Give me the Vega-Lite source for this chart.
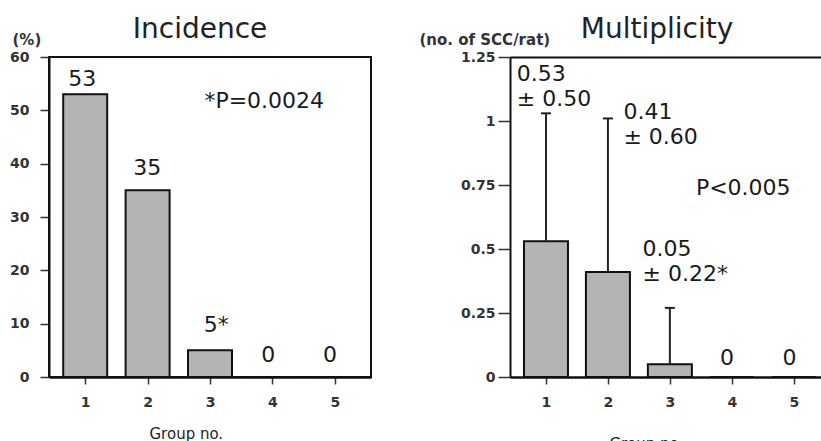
{
  "$schema": "https://vega.github.io/schema/vega-lite/v6.json",
  "background": "white",
  "padding": {"left": 8, "top": 15, "right": 0, "bottom": 0},
  "bounds": "flush",
  "spacing": 139,
  "config": {
    "font": "DejaVu Sans",
    "view": {"stroke": "#111", "strokeWidth": 2},
    "axis": {
      "grid": false,
      "domainColor": "#111",
      "tickColor": "#333",
      "tickWidth": 1.5,
      "labelFont": "DejaVu Sans",
      "labelFontSize": 14,
      "labelFontWeight": "bold",
      "labelColor": "#333",
      "titleFont": "DejaVu Sans"
    }
  },
  "hconcat": [
    {
      "width": 322,
      "height": 320,
      "title": {"text": "Incidence", "font": "DejaVu Sans", "fontSize": 28, "fontWeight": "normal", "color": "#222", "anchor": "middle", "frame": "group", "dx": -10, "offset": -34, "baseline": "alphabetic"},
      "layer": [
        {
          "data": {"values": [
            {"group": 1, "value": 53},
            {"group": 2, "value": 35},
            {"group": 3, "value": 5},
            {"group": 4, "value": 0},
            {"group": 5, "value": 0}
          ]},
          "mark": {"type": "bar", "width": 44, "fill": "#b4b4b4", "stroke": "#111", "strokeWidth": 2},
          "encoding": {
            "x": {"field": "group", "type": "quantitative", "title": "Group no.",
              "scale": {"domain": [0.5, 5.5], "nice": false, "zero": false},
              "axis": {"values": [1, 2, 3, 4, 5], "format": "d", "domainWidth": 2.5, "tickSize": 7, "labelPadding": 11,
                "titleFontSize": 15, "titleFontWeight": "normal", "titleColor": "#222", "titleX": 100, "titleY": 61, "titleAlign": "left", "titleBaseline": "alphabetic"}},
            "y": {"field": "value", "type": "quantitative", "title": "(%)",
              "scale": {"domain": [0, 60], "nice": false},
              "axis": {"values": [0, 10, 20, 30, 40, 50, 60], "domainWidth": 2, "tickSize": 9, "labelPadding": 11,
                "titleAngle": 0, "titleAlign": "left", "titleBaseline": "alphabetic", "titleX": -37, "titleY": -13,
                "titleFontSize": 15, "titleFontWeight": "bold", "titleColor": "#333"}}
          }
        },
        {
          "data": {"values": [
            {"x": 0.73, "y": 54.6, "text": "53"},
            {"x": 1.77, "y": 37.9, "text": "35"},
            {"x": 2.9, "y": 8.4, "text": "5*"},
            {"x": 3.82, "y": 2.8, "text": "0"},
            {"x": 4.81, "y": 2.8, "text": "0"},
            {"x": 2.91, "y": 50.4, "text": "*P=0.0024"}
          ]},
          "mark": {"type": "text", "align": "left", "baseline": "alphabetic", "font": "DejaVu Sans", "fontSize": 22, "color": "#1a1a1a"},
          "encoding": {
            "x": {"field": "x", "type": "quantitative", "title": "Group no.", "scale": {"domain": [0.5, 5.5], "nice": false, "zero": false}},
            "y": {"field": "y", "type": "quantitative", "title": "(%)", "scale": {"domain": [0, 60], "nice": false}},
            "text": {"field": "text"}
          }
        }
      ]
    },
    {
      "width": 312,
      "height": 320,
      "view": {"stroke": null},
      "title": {"text": "Multiplicity", "font": "DejaVu Sans", "fontSize": 28, "fontWeight": "normal", "color": "#222", "anchor": "middle", "frame": "group", "dx": -9, "offset": -34, "baseline": "alphabetic"},
      "resolve": {"axis": {"x": "independent"}},
      "layer": [
        {
          "data": {"values": [
            {"group": 1, "mean": 0.53, "sd": 0.50, "upper": 1.03},
            {"group": 2, "mean": 0.41, "sd": 0.60, "upper": 1.01},
            {"group": 3, "mean": 0.05, "sd": 0.22, "upper": 0.27},
            {"group": 4, "mean": 0, "sd": 0, "upper": 0},
            {"group": 5, "mean": 0, "sd": 0, "upper": 0}
          ]},
          "layer": [
            {
              "mark": {"type": "bar", "width": 44, "fill": "#b4b4b4", "stroke": "#111", "strokeWidth": 2},
              "encoding": {
                "x": {"field": "group", "type": "quantitative", "title": "Group no.",
                  "scale": {"domain": [0.5, 5.375], "nice": false, "zero": false},
                  "axis": {"values": [1, 2, 3, 4, 5], "format": "d", "domainWidth": 2.5, "tickSize": 7, "labelPadding": 11,
                    "titleFontSize": 15, "titleFontWeight": "normal", "titleColor": "#222", "titleX": 99, "titleY": 71, "titleAlign": "left", "titleBaseline": "alphabetic"}},
                "y": {"field": "mean", "type": "quantitative", "title": "(no. of SCC/rat)",
                  "scale": {"domain": [0, 1.25], "nice": false},
                  "axis": {"values": [0, 0.25, 0.5, 0.75, 1, 1.25], "labelExpr": "'' + datum.value", "domainWidth": 2, "tickSize": 12, "labelPadding": 3,
                    "titleAngle": 0, "titleAlign": "left", "titleBaseline": "alphabetic", "titleX": -91, "titleY": -13,
                    "titleFontSize": 15, "titleFontWeight": "bold", "titleColor": "#333"}}
              }
            },
            {
              "transform": [{"filter": "datum.sd > 0"}],
              "mark": {"type": "rule", "strokeWidth": 2, "color": "#222"},
              "encoding": {
                "x": {"field": "group", "type": "quantitative", "title": "Group no.", "scale": {"domain": [0.5, 5.375], "nice": false, "zero": false}},
                "y": {"field": "mean", "type": "quantitative", "title": "(no. of SCC/rat)", "scale": {"domain": [0, 1.25], "nice": false}},
                "y2": {"field": "upper"}
              }
            },
            {
              "transform": [{"filter": "datum.sd > 0"}],
              "mark": {"type": "tick", "orient": "horizontal", "size": 10, "thickness": 2, "color": "#222", "opacity": 1},
              "encoding": {
                "x": {"field": "group", "type": "quantitative", "title": "Group no.", "scale": {"domain": [0.5, 5.375], "nice": false, "zero": false}},
                "y": {"field": "upper", "type": "quantitative", "title": "(no. of SCC/rat)", "scale": {"domain": [0, 1.25], "nice": false}}
              }
            }
          ]
        },
        {
          "data": {"values": [
            {"x": 0.53, "y": 1.156, "text": "0.53\n± 0.50"},
            {"x": 2.25, "y": 1.008, "text": "0.41\n± 0.60"},
            {"x": 3.42, "y": 0.711, "text": "P<0.005"},
            {"x": 2.56, "y": 0.473, "text": "0.05\n± 0.22*"},
            {"x": 3.81, "y": 0.047, "text": "0"},
            {"x": 4.82, "y": 0.047, "text": "0"}
          ]},
          "mark": {"type": "text", "align": "left", "baseline": "alphabetic", "font": "DejaVu Sans", "fontSize": 22, "color": "#1a1a1a", "lineBreak": "\n", "lineHeight": 25},
          "encoding": {
            "x": {"field": "x", "type": "quantitative", "scale": {"domain": [0.5, 5.375], "nice": false, "zero": false},
              "axis": {"orient": "top", "labels": false, "ticks": false, "title": null, "domainWidth": 2, "domainColor": "#111"}},
            "y": {"field": "y", "type": "quantitative", "title": "(no. of SCC/rat)", "scale": {"domain": [0, 1.25], "nice": false}},
            "text": {"field": "text"}
          }
        }
      ]
    }
  ]
}
